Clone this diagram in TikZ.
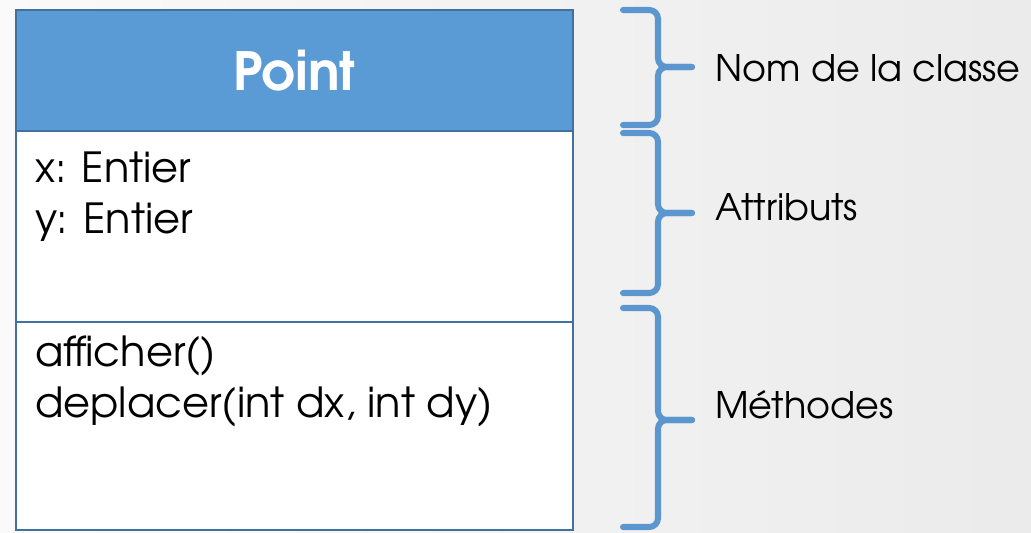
\documentclass[tikz,border=0pt]{standalone}
\usepackage{fontspec}
\setmainfont{texgyreadventor}[Extension=.otf, UprightFont=*-regular, BoldFont=*-bold]
\usetikzlibrary{positioning}

\definecolor{bleuclair}{HTML}{5B9BD5}
\definecolor{bleufonce}{HTML}{41719C}
\definecolor{bleuaccolade}{HTML}{5B96CE}

\begin{document}
\begin{tikzpicture}[x=0.025cm, y=-0.025cm,
    compart/.style={rectangle, draw=bleufonce, line width=1.8pt, fill=white, outer sep=0pt, minimum width=557*0.025cm, inner sep=0pt},
    entete/.style={compart, fill=bleuclair, text=white, font=\fontsize{37.5}{40}\selectfont\bfseries},
    membre/.style={anchor=base west, align=left, inner sep=0pt, font=\fontsize{29.5}{35.6}\selectfont},
    legende/.style={anchor=base west, inner sep=0pt, font=\fontsize{26}{30}\selectfont},
    accolade/.style={draw=bleuaccolade, line width=4.3pt, line cap=round, rounded corners=0.22cm}]
    \useasboundingbox (0,0) rectangle (1031,532);
    \shade[left color=black!2, right color=black!8] (0,0) rectangle (1031,532);
    % classe
    \node[entete, minimum height=121*0.025cm] (nom) at (294.5,70.5) {Point};
    \node[compart, below=0pt of nom, minimum height=191*0.025cm] (attributs) {};
    \node[compart, below=0pt of attributs, minimum height=208*0.025cm] (methodes) {};
    \node[membre] (attr) at (35,233) {x: Entier\\y: Entier};
    \node[membre] (meth) at (35,417) {afficher()\\deplacer(int dx, int dy)};
    % accolades
    \draw[accolade] (623,10) -- (658,10) -- (658,67) -- (692,67);
    \draw[accolade] (692,67) -- (658,67) -- (658,125) -- (623,125);
    \draw[accolade] (623,133) -- (658,133) -- (658,213) -- (692,213);
    \draw[accolade] (692,213) -- (658,213) -- (658,293) -- (623,293);
    \draw[accolade] (623,308) -- (658,308) -- (658,420) -- (692,420);
    \draw[accolade] (692,420) -- (658,420) -- (658,527) -- (623,527);
    % legendes
    \node[legende] (lnom) at (715,82) {Nom de la classe};
    \node[legende] (lattr) at (715,220) {Attributs};
    \node[legende] (lmeth) at (715,418) {Méthodes};
\end{tikzpicture}
\end{document}
